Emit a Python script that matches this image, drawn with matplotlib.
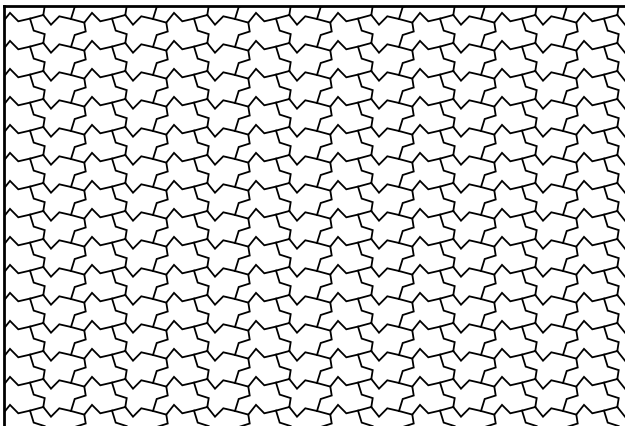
import matplotlib
matplotlib.use("Agg")
import matplotlib.pyplot as plt
import numpy as np

W, H = 625, 427
# translation periods of the tiling (pixels); the two halves of a
# horizontal period are mirror images (glide reflection)
period_x, period_y = 82.0, 28.0
origin = (235.0, 160.0)

# zigzag row line over one full horizontal period (relative to origin)
row_x = [-27.7, -20.0, -11.7, 0.0, 13.3, 21.0, 29.3, 41.0, 54.3]
row_y = [-4.0, 5.7, -2.7, 0.0, 3.6, -6.1, 2.3, -0.4, -4.0]
# stepped edge going up from the first row vertex to the row above
up_x = [-27.7, -26.3, -37.3, -41.0]
up_y = [-4.0, -12.9, -16.4, -28.4]
# stepped edge going down from the middle row vertex to the row below
down_x = [13.3, 14.7, 3.7, 0.0]
down_y = [3.6, 12.5, 16.0, 28.0]

fig = plt.figure(figsize=(W / 100, H / 100), dpi=100)
ax = fig.add_axes([4 / W, 0, 1 - 4 / W, 1 - 6.5 / H])
ax.set_xlim(4, W)
ax.set_ylim(H, 6.5)
ax.set_xticks([])
ax.set_yticks([])
for side in ["right", "bottom"]:
    ax.spines[side].set_visible(False)
for side in ["top", "left"]:
    ax.spines[side].set_linewidth(2.0)

for i in range(-4, 10):
    for j in range(-8, 12):
        ox = origin[0] + i * period_x
        oy = origin[1] + j * period_y
        for xs, ys in [(row_x, row_y), (up_x, up_y), (down_x, down_y)]:
            ax.plot(np.array(xs) + ox, np.array(ys) + oy, color="black",
                    lw=1.3, solid_joinstyle="miter")

fig.savefig("out.png", dpi=100)
